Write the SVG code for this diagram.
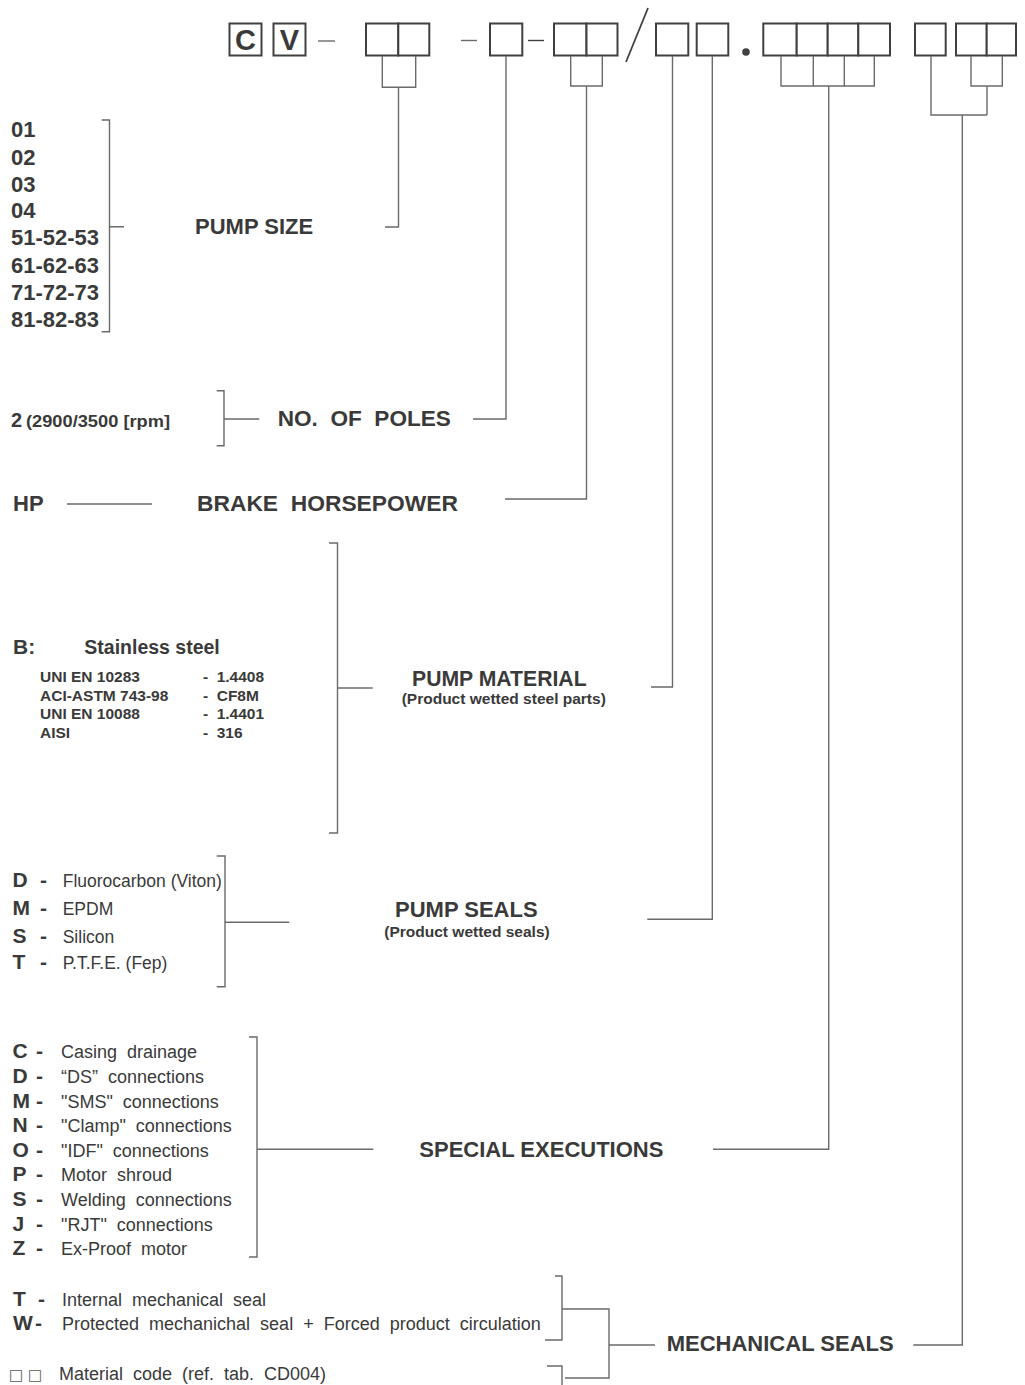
<svg xmlns="http://www.w3.org/2000/svg" width="1025" height="1385" viewBox="0 0 1025 1385">
<style>
.bx{fill:#fff;stroke:#404040;stroke-width:2}
.ln{fill:none;stroke:#6a6a6a;stroke-width:1.4}
.t{font-family:"Liberation Sans",Arial,sans-serif;fill:#3a3a3a}
.b{font-weight:bold}
.ttl{font-family:"Liberation Sans",Arial,sans-serif;font-weight:bold;font-size:22px;fill:#3a3a3a}
.sub{font-family:"Liberation Sans",Arial,sans-serif;font-weight:bold;font-size:15.5px;fill:#3a3a3a}
.big{font-family:"Liberation Sans",Arial,sans-serif;font-weight:bold;font-size:22px;fill:#3a3a3a}
.key{font-family:"Liberation Sans",Arial,sans-serif;font-weight:bold;font-size:21px;fill:#3a3a3a}
.dsc{font-family:"Liberation Sans",Arial,sans-serif;font-size:18px;fill:#3a3a3a}
.tab{font-family:"Liberation Sans",Arial,sans-serif;font-weight:bold;font-size:15.5px;fill:#3a3a3a}
</style>
<rect width="1025" height="1385" fill="#fff"/>

<g id="code">
  <rect class="bx" x="229.5" y="23.5" width="32" height="32"/>
  <text class="t b" x="245.5" y="50" font-size="29" text-anchor="middle">C</text>
  <rect class="bx" x="273.5" y="23.5" width="32" height="32"/>
  <text class="t b" x="289.5" y="50" font-size="29" text-anchor="middle">V</text>
  <line class="ln" x1="318" y1="41" x2="335" y2="41"/>
  <rect class="bx" x="366" y="23.5" width="32.3" height="32"/>
  <rect class="bx" x="398.3" y="23.5" width="31" height="32"/>
  <line class="ln" x1="461" y1="40.5" x2="477" y2="40.5"/>
  <rect class="bx" x="490" y="23.5" width="32.3" height="32"/>
  <line x1="528" y1="40.5" x2="544" y2="40.5" stroke="#404040" stroke-width="1.4"/>
  <rect class="bx" x="554" y="23.5" width="32.5" height="32"/>
  <rect class="bx" x="586.5" y="23.5" width="31" height="32"/>
  <line x1="626" y1="62" x2="648" y2="8" stroke="#404040" stroke-width="1.8"/>
  <rect class="bx" x="656" y="23.5" width="32.3" height="32"/>
  <rect class="bx" x="696.7" y="23.5" width="31.6" height="32"/>
  <circle cx="746" cy="52" r="3.8" fill="#404040"/>
  <rect class="bx" x="763.3" y="23.5" width="33.4" height="32"/>
  <rect class="bx" x="796.7" y="23.5" width="31" height="32"/>
  <rect class="bx" x="827.7" y="23.5" width="30.6" height="32"/>
  <rect class="bx" x="858.3" y="23.5" width="31.7" height="32"/>
  <rect class="bx" x="915" y="23.5" width="30.7" height="32"/>
  <rect class="bx" x="956" y="23.5" width="30.7" height="32"/>
  <rect class="bx" x="986.7" y="23.5" width="29.3" height="32"/>
</g>

<g id="connectors">
  <path class="ln" d="M382.3 56 V87.3 H415.7 V56 M398.5 87.3 V227 H385"/>
  <path class="ln" d="M506 56 V419 H473"/>
  <path class="ln" d="M570.7 56 V86 H602.3 V56 M586.5 86 V499 H505"/>
  <path class="ln" d="M672.5 56 V687 H651"/>
  <path class="ln" d="M712.3 56 V919.3 H647.3"/>
  <path class="ln" d="M781 56 V86 H874.3 V56 M813.3 56 V86 M844.3 56 V86 M828.7 86 V1149.3 H713"/>
  <path class="ln" d="M931 56 V115 H987 M971 56 V86 H1002.3 V56 M987 86 V115 M962.3 115 V1345 H913.3"/>
  <path class="ln" d="M101.7 120 H109.5 V331.7 H101.7 M109.5 226.7 H124"/>
  <path class="ln" d="M216.7 390.7 H224 V445.7 H216.7 M224 419 H259.3"/>
  <path class="ln" d="M67 504 H152"/>
  <path class="ln" d="M329 543 H337.5 V833 H329 M337.5 688 H372.7"/>
  <path class="ln" d="M216.7 856 H225 V986.7 H216.7 M225 922.3 H289.3"/>
  <path class="ln" d="M249 1037 H257 V1257 H249 M257 1149.3 H373.3"/>
  <path class="ln" d="M555 1276 H562 V1340 H545 M562 1309 H609 V1378 H565 M609 1345 H655 M547 1366 H562 V1385"/>
</g>

<g id="pump-size">
  <text class="big" x="11" y="137.3">01</text>
  <text class="big" x="11" y="164.5">02</text>
  <text class="big" x="11" y="191.7">03</text>
  <text class="big" x="11" y="218.3">04</text>
  <text class="big" x="11" y="245">51-52-53</text>
  <text class="big" x="11" y="272.5">61-62-63</text>
  <text class="big" x="11" y="299.7">71-72-73</text>
  <text class="big" x="11" y="326.7">81-82-83</text>
  <text class="ttl" x="195" y="234">PUMP SIZE</text>
</g>

<g id="poles">
  <text class="t b" x="11" y="426.7" font-size="20">2</text>
  <text class="t b" x="26" y="426.7" font-size="17" textLength="144" lengthAdjust="spacingAndGlyphs">(2900/3500 [rpm]</text>
  <text class="ttl" x="277.7" y="425.7" font-size="22.6px" style="font-size:22.6px">NO.&#160; OF&#160; POLES</text>
</g>

<g id="hp">
  <text class="ttl" x="13" y="511">HP</text>
  <text class="ttl" x="197" y="511" style="font-size:22.8px">BRAKE&#160; HORSEPOWER</text>
</g>

<g id="material">
  <text class="key" x="13" y="654.3">B:</text>
  <text class="t b" x="84.3" y="654.3" font-size="19.5">Stainless steel</text>
  <text class="tab" x="40" y="681.7">UNI EN 10283</text>
  <text class="tab" x="40" y="700.7">ACI-ASTM 743-98</text>
  <text class="tab" x="40" y="719.3">UNI EN 10088</text>
  <text class="tab" x="40" y="738.3">AISI</text>
  <text class="tab" x="203" y="681.7">-</text>
  <text class="tab" x="203" y="700.7">-</text>
  <text class="tab" x="203" y="719.3">-</text>
  <text class="tab" x="203" y="738.3">-</text>
  <text class="tab" x="216.7" y="681.7">1.4408</text>
  <text class="tab" x="216.7" y="700.7">CF8M</text>
  <text class="tab" x="216.7" y="719.3">1.4401</text>
  <text class="tab" x="216.7" y="738.3">316</text>
  <text class="t b" x="412" y="686" font-size="21.2">PUMP MATERIAL</text>
  <text class="sub" x="401.7" y="704">(Product wetted steel parts)</text>
</g>

<g id="seals">
  <text class="key" x="12.5" y="887.3">D</text>
  <text class="key" x="12.5" y="915">M</text>
  <text class="key" x="12.5" y="943.3">S</text>
  <text class="key" x="12.5" y="968.5">T</text>
  <text class="key" x="40" y="887.3" font-size="18">-</text>
  <text class="key" x="40" y="915" font-size="18">-</text>
  <text class="key" x="40" y="943.3" font-size="18">-</text>
  <text class="key" x="40" y="968.5" font-size="18">-</text>
  <text class="t" x="62.7" y="887.3" font-size="17.5">Fluorocarbon (Viton)</text>
  <text class="t" x="62.7" y="915" font-size="17.5">EPDM</text>
  <text class="t" x="62.7" y="943.3" font-size="17.5">Silicon</text>
  <text class="t" x="62.7" y="968.5" font-size="17.5">P.T.F.E. (Fep)</text>
  <text class="ttl" x="395" y="916.7">PUMP SEALS</text>
  <text class="sub" x="384.3" y="936.7">(Product wetted seals)</text>
</g>

<g id="special">
  <text class="key" x="12.5" y="1058.3">C</text>
  <text class="key" x="12.5" y="1083">D</text>
  <text class="key" x="12.5" y="1107.6">M</text>
  <text class="key" x="12.5" y="1132.2">N</text>
  <text class="key" x="12.5" y="1156.8">O</text>
  <text class="key" x="12.5" y="1181.4">P</text>
  <text class="key" x="12.5" y="1206">S</text>
  <text class="key" x="12.5" y="1230.6">J</text>
  <text class="key" x="12.5" y="1255.2">Z</text>
  <text class="key" x="36" y="1058.3" font-size="18">-</text>
  <text class="key" x="36" y="1083" font-size="18">-</text>
  <text class="key" x="36" y="1107.6" font-size="18">-</text>
  <text class="key" x="36" y="1132.2" font-size="18">-</text>
  <text class="key" x="36" y="1156.8" font-size="18">-</text>
  <text class="key" x="36" y="1181.4" font-size="18">-</text>
  <text class="key" x="36" y="1206" font-size="18">-</text>
  <text class="key" x="36" y="1230.6" font-size="18">-</text>
  <text class="key" x="36" y="1255.2" font-size="18">-</text>
  <text class="dsc" x="61" y="1058.3">Casing&#160; drainage</text>
  <text class="dsc" x="61" y="1083">“DS”&#160; connections</text>
  <text class="dsc" x="61" y="1107.6">"SMS"&#160; connections</text>
  <text class="dsc" x="61" y="1132.2">"Clamp"&#160; connections</text>
  <text class="dsc" x="61" y="1156.8">"IDF"&#160; connections</text>
  <text class="dsc" x="61" y="1181.4">Motor&#160; shroud</text>
  <text class="dsc" x="61" y="1206">Welding&#160; connections</text>
  <text class="dsc" x="61" y="1230.6">"RJT"&#160; connections</text>
  <text class="dsc" x="61" y="1255.2">Ex-Proof&#160; motor</text>
  <text class="ttl" x="419.3" y="1157.3">SPECIAL EXECUTIONS</text>
</g>

<g id="mechanical">
  <text class="key" x="13" y="1306">T</text>
  <text class="key" x="13" y="1330">W</text>
  <text class="key" x="38" y="1306" font-size="16">-</text>
  <text class="key" x="35" y="1330" font-size="16">-</text>
  <text class="dsc" x="62" y="1306">Internal&#160; mechanical&#160; seal</text>
  <text class="dsc" x="62" y="1330">Protected&#160; mechanichal&#160; seal&#160; +&#160; Forced&#160; product&#160; circulation</text>
  <text x="9" y="1380" font-family="DejaVu Sans,sans-serif" font-size="15" fill="#555">□ □</text>
  <text class="dsc" x="59" y="1380">Material&#160; code&#160; (ref.&#160; tab.&#160; CD004)</text>
  <text class="ttl" x="666.7" y="1351">MECHANICAL SEALS</text>
</g>
</svg>
